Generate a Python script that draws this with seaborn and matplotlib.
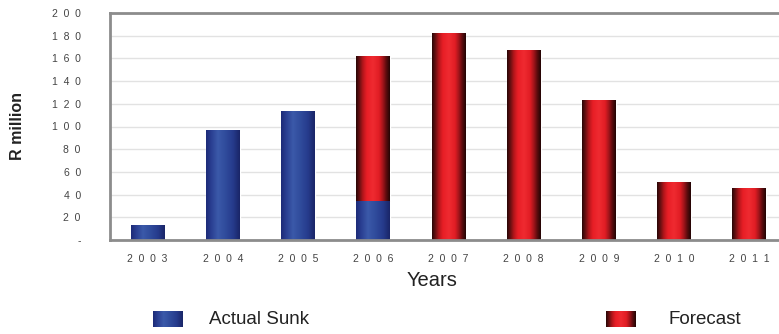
import numpy as np
import pandas as pd
import seaborn as sns
import matplotlib.pyplot as plt
from matplotlib.colors import LinearSegmentedColormap

# data (R million)
years = ["2003", "2004", "2005", "2006", "2007", "2008", "2009", "2010", "2011"]
actual_sunk = [13, 97, 114, 34, 0, 0, 0, 0, 0]
forecast = [0, 0, 0, 128, 182, 167, 123, 51, 46]
ytick_vals = [0, 20, 40, 60, 80, 100, 120, 140, 160, 180, 200]
ytick_labels = ["-", "2  0", "4  0", "6  0", "8  0", "1  0  0", "1  2  0", "1  4  0",
                "1  6  0", "1  8  0", "2  0  0"]

df = pd.DataFrame({"year": years, "actual": actual_sunk, "forecast": forecast})

sns.set_style("white")
plt.rcParams['font.family'] = ['Liberation Sans', 'DejaVu Sans']

# cylinder-like shading across the bars
red_cmap = LinearSegmentedColormap.from_list("red", [
    (0, '#2b0707'), (0.1, '#6b1012'), (0.2, '#b5161b'), (0.32, '#e81e26'),
    (0.5, '#ef2b31'), (0.68, '#e11d24'), (0.8, '#a0141a'), (0.9, '#5a0c0e'), (1, '#240505')])
blue_cmap = LinearSegmentedColormap.from_list("blue", [
    (0, '#1d2b78'), (0.15, '#2a3f92'), (0.35, '#3b59a9'), (0.55, '#314d9d'),
    (0.8, '#263b8c'), (1, '#1a2668')])
grad = np.linspace(0, 1, 64).reshape(1, -1)

fig = plt.figure(figsize=(7.79, 3.34), dpi=100)
ax = fig.add_axes([110 / 779, 1 - 240 / 334, 677 / 779, 227 / 334])

sns.barplot(data=df, x="year", y="actual", color="#2e4898", width=0.45, ax=ax)
n_blue = len(ax.patches)
sns.barplot(data=df, x="year", y="forecast", bottom=df["actual"], color="#e81e26", width=0.45, ax=ax)

for i, p in enumerate(ax.patches):
    if p.get_height() <= 0:
        continue
    x0, y0 = p.get_x(), p.get_y()
    cmap = blue_cmap if i < n_blue else red_cmap
    im = ax.imshow(grad, cmap=cmap, aspect="auto", zorder=p.get_zorder() + 0.1,
                   extent=[x0, x0 + p.get_width(), y0, y0 + p.get_height()])
    im.set_clip_path(p)

ax.set_xlim(-0.5, len(years) - 0.5)
ax.set_ylim(0, 200)
ax.set_yticks(ytick_vals)
ax.set_yticklabels(ytick_labels)
ax.set_xticks(range(len(years)))
ax.set_xticklabels(["  ".join(y) for y in years])
ax.set_xticks(np.arange(-0.5, len(years), 1), minor=True)

ax.grid(axis="y", color="#e2e2e2", linewidth=1)
ax.set_axisbelow(True)
ax.tick_params(axis="y", direction="out", length=7, color="#d0d0d0", labelsize=7.5, labelcolor="#444444", pad=14)
ax.tick_params(axis="x", which="major", length=0, labelsize=7.5, labelcolor="#444444", pad=10)
ax.tick_params(axis="x", which="minor", direction="out", length=4, color="#c8c8c8")
for s in ax.spines.values():
    s.set_color("#8c8c8c")
    s.set_linewidth(2)

ax.set_xlabel("Years", fontsize=14.5, color="#222222")
ax.xaxis.set_label_coords((432 - 110) / 677, -(281 - 240) / 227)
ax.set_ylabel("R million", fontsize=11.5, fontweight="bold", color="#222222")
ax.yaxis.set_label_coords((18 - 110) / 677, 0.5)
ax.xaxis.label.set_va("center")
ax.yaxis.label.set_va("center")

# legend below the chart
for x, tx, cmap, label in [(153, 209, blue_cmap, "Actual Sunk"), (606, 669, red_cmap, "Forecast")]:
    lax = fig.add_axes([x / 779, 1 - 327 / 334, 30 / 779, 16 / 334])
    lax.imshow(grad, cmap=cmap, aspect="auto")
    lax.axis("off")
    fig.text(tx / 779, 1 - 319 / 334, label, fontsize=13.5, color="#222222", va="center")

fig.savefig("out.png", dpi=100)
